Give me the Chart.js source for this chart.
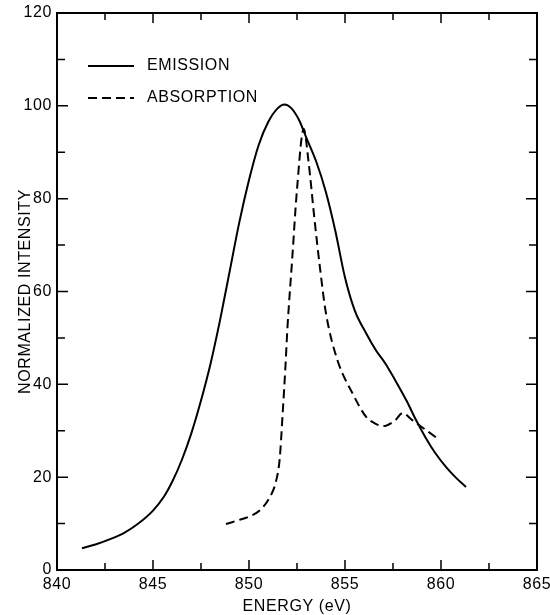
<!DOCTYPE html>
<html>
<head>
<meta charset="utf-8">
<script src="https://cdn.jsdelivr.net/npm/chart.js@4.4.0/dist/chart.umd.min.js"></script>
<style>
  html, body { margin: 0; padding: 0; background: #fff; }
  #wrap { width: 550px; height: 615px; }
</style>
</head>
<body>
<div id="wrap"><canvas id="spectrum"></canvas></div>
<script>
// values
const emissionEnergy = [841.3, 842.0, 842.8, 843.5, 844.2, 845.0, 845.6, 846.0, 846.5, 847.0,
  847.5, 848.0, 848.5, 849.0, 849.5, 850.0, 850.5, 851.0, 851.5, 851.85,
  852.2, 852.6, 853.0, 853.5, 854.0, 854.5, 855.0, 855.5, 856.1, 856.6,
  857.1, 857.6, 858.2, 858.7, 859.2, 859.7, 860.3, 860.8, 861.3];
const emissionIntensity = [4.7, 5.5, 6.7, 8.0, 9.9, 12.8, 16.0, 19.0, 23.7, 29.5,
  36.5, 44.5, 54.0, 64.5, 75.0, 84.0, 91.5, 96.5, 99.5, 100.3,
  99.5, 97.0, 93.0, 88.0, 81.5, 73.0, 63.0, 56.0, 51.0, 47.4,
  44.5, 41.0, 36.5, 32.3, 28.5, 25.2, 22.0, 19.8, 17.9];

const absorptionEnergy = [848.8, 849.5, 850.0, 850.6, 851.1, 851.4, 851.6, 851.75, 851.9, 852.0,
  852.25, 852.5, 852.85, 853.1, 853.4, 853.7, 854.0, 854.6, 855.4, 856.1,
  856.6, 857.0, 857.6, 858.0, 858.5, 859.2, 859.8];
const absorptionIntensity = [9.9, 10.8, 11.5, 13.0, 15.8, 19.0, 24.0, 33.5, 44.0, 52.0,
  67.0, 82.0, 95.0, 88.0, 76.0, 65.0, 55.5, 45.3, 38.0, 33.0,
  31.5, 31.0, 32.2, 33.8, 32.3, 30.2, 28.4];

const xRange = [840, 865];
const yRange = [0, 120];
const xMinorStep = 2.5;
const yMinorStep = 10;

const FONT = 'Liberation Sans, Arial, sans-serif';

function toPoints(xs, ys) {
  return xs.map((x, i) => ({ x: x, y: ys[i] }));
}

// frame, inward ticks and the legend box
const framePlugin = {
  id: 'frame',
  beforeLayout(chart) { chart.ctx.letterSpacing = '0.6px'; },
  beforeDraw(chart) { chart.ctx.letterSpacing = '0.6px'; },
  afterDraw(chart) {
    const ctx = chart.ctx;
    const a = chart.chartArea;
    const xs = chart.scales.x, ys = chart.scales.y;
    ctx.save();
    ctx.strokeStyle = '#000';
    ctx.lineWidth = 2;
    ctx.strokeRect(a.left, a.top, a.right - a.left, a.bottom - a.top);

    ctx.lineWidth = 1.5;
    ctx.beginPath();
    for (let v = xRange[0] + xMinorStep; v < xRange[1]; v += xMinorStep) {
      const px = xs.getPixelForValue(v);
      const len = v % 5 === 0 ? 10 : 7;
      ctx.moveTo(px, a.bottom); ctx.lineTo(px, a.bottom - len);
      ctx.moveTo(px, a.top); ctx.lineTo(px, a.top + len);
    }
    for (let v = yRange[0] + yMinorStep; v < yRange[1]; v += yMinorStep) {
      const py = ys.getPixelForValue(v);
      const len = v % 20 === 0 ? 11 : 8;
      ctx.moveTo(a.left, py); ctx.lineTo(a.left + len, py);
      ctx.moveTo(a.right, py); ctx.lineTo(a.right - len, py);
    }
    ctx.stroke();

    // legend
    ctx.font = '16px ' + FONT;
    ctx.fillStyle = '#000';
    ctx.textBaseline = 'middle';
    const rows = [66, 98];
    chart.data.datasets.forEach((ds, i) => {
      const y = rows[i];
      ctx.beginPath();
      ctx.lineWidth = 2;
      ctx.setLineDash(ds.borderDash || []);
      ctx.moveTo(88, y); ctx.lineTo(134, y);
      ctx.stroke();
      ctx.setLineDash([]);
      ctx.fillText(ds.label, 147, y);
    });
    ctx.restore();
  }
};

new Chart(document.getElementById('spectrum'), {
  type: 'line',
  data: {
    datasets: [
      {
        label: 'EMISSION',
        data: toPoints(emissionEnergy, emissionIntensity),
        borderColor: '#000',
        borderWidth: 2,
        pointRadius: 0,
        fill: false,
        cubicInterpolationMode: 'monotone'
      },
      {
        label: 'ABSORPTION',
        data: toPoints(absorptionEnergy, absorptionIntensity),
        borderColor: '#000',
        borderWidth: 2,
        borderDash: [9, 5],
        pointRadius: 0,
        fill: false,
        cubicInterpolationMode: 'monotone'
      }
    ]
  },
  options: {
    responsive: true,
    maintainAspectRatio: false,
    animation: false,
    layout: { padding: { top: 13, right: 13, left: 0, bottom: 0 } },
    scales: {
      x: {
        type: 'linear',
        min: xRange[0],
        max: xRange[1],
        afterFit(s) { s.height = 45; s.paddingRight = 0; s.paddingLeft = 0; },
        ticks: { stepSize: 5, color: '#000', padding: 5, maxRotation: 0,
                 font: { family: FONT, size: 16 } },
        grid: { display: false, drawTicks: false },
        border: { display: true, color: '#000', width: 2 },
        title: { display: true, text: 'ENERGY (eV)', color: '#000',
                 font: { family: FONT, size: 16, lineHeight: 1 }, padding: 0 }
      },
      y: {
        min: yRange[0],
        max: yRange[1],
        afterFit(s) { s.width = 57; s.paddingTop = 0; s.paddingBottom = 0; },
        ticks: { stepSize: 20, color: '#000', padding: 5,
                 font: { family: FONT, size: 16 } },
        grid: { display: false, drawTicks: false },
        border: { display: true, color: '#000', width: 2 },
        title: { display: true, text: 'NORMALIZED INTENSITY', color: '#000',
                 font: { family: FONT, size: 16, lineHeight: 1 }, padding: { top: 18, bottom: 0 } }
      }
    },
    plugins: {
      legend: { display: false },
      tooltip: { enabled: false }
    }
  },
  plugins: [framePlugin]
});
</script>
</body>
</html>
